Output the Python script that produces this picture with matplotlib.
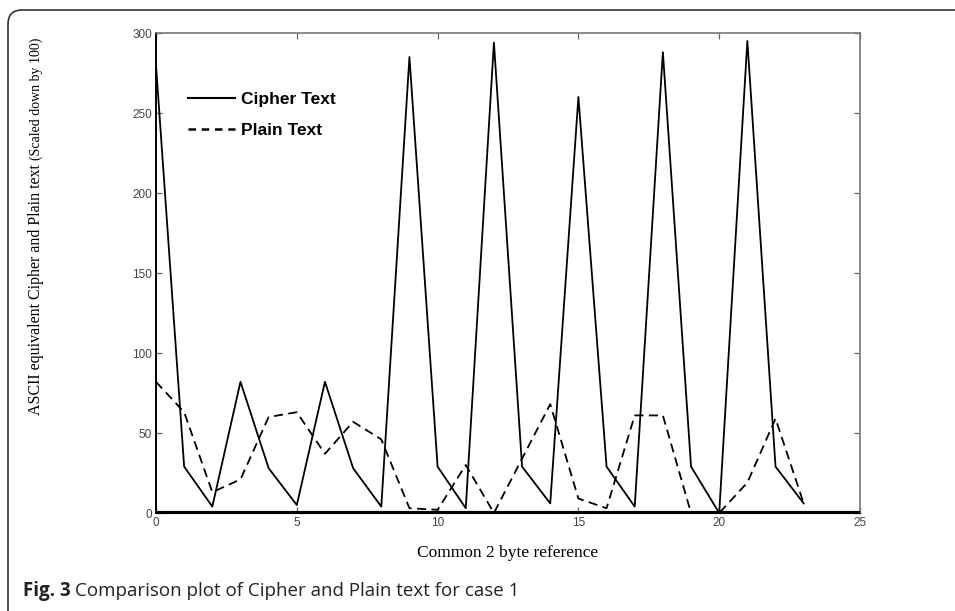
import matplotlib
matplotlib.use('Agg')
from matplotlib import pyplot as plt
from matplotlib.patches import FancyBboxPatch
from matplotlib.transforms import IdentityTransform
from matplotlib.lines import Line2D
import numpy as np

# values (byte index 0..23)
byte_ref = list(range(24))
cipher_text = [280, 29, 4, 82, 28, 5, 82, 28, 4, 285, 29, 3, 294, 29, 6, 260, 29, 4, 288, 29, 0, 295, 29, 6]
plain_text = [82, 63, 13, 21, 60, 63, 37, 57, 46, 3, 2, 30, 0, 34, 68, 9, 3, 61, 61, 0, 0, 19, 59, 6]
x_ticks = [0, 5, 10, 15, 20, 25]
y_ticks = [0, 50, 100, 150, 200, 250, 300]

W, H = 955, 611
fig = plt.figure(figsize=(W / 100, H / 100), dpi=100)

# card border (rounded, runs off the right and bottom edge)
card = FancyBboxPatch((8, -40), 1000, H - 10 + 40, boxstyle="round,pad=0,rounding_size=14",
                      transform=IdentityTransform(), facecolor='none', edgecolor='#333333', lw=1.2)
fig.add_artist(card)

ax = fig.add_axes([156 / W, (H - 513) / H, 704 / W, 480 / H])
ax.plot(byte_ref, cipher_text, color='black', lw=1.3, label='Cipher Text')
ax.plot(byte_ref, plain_text, color='black', lw=1.3, linestyle=(0, (5, 3)), label='Plain Text')
ax.axhline(0, color='black', lw=3, zorder=5)

ax.set_xlim(0, 25)
ax.set_ylim(0, 300)
ax.set_xticks(x_ticks)
ax.set_yticks(y_ticks)
tick_font = dict(family=['Liberation Sans Narrow', 'Liberation Sans'], size=8.5)
ax.set_xticklabels([str(t) for t in x_ticks], fontdict=tick_font, color='#444444')
ax.set_yticklabels([str(t) for t in y_ticks], fontdict=tick_font, color='#444444')
ax.tick_params(direction='in', length=4, width=0.9, color='#666666', top=True, right=True, pad=3)
for side in ['top', 'right']:
    ax.spines[side].set_color('#777777')
    ax.spines[side].set_linewidth(1.2)
ax.spines['left'].set_color('black')
ax.spines['left'].set_linewidth(1.4)
ax.spines['bottom'].set_color('black')

handles = [Line2D([], [], color='black', lw=1.5),
           Line2D([], [], color='black', lw=1.8, linestyle=(0, (3, 2.3)))]
ax.legend(handles, ['Cipher Text', 'Plain Text'], loc='upper left', bbox_to_anchor=(0.045, 0.877),
          frameon=False, handlelength=2.75, handletextpad=0.3, labelspacing=0.9,
          borderpad=0, borderaxespad=0,
          prop=dict(family='Liberation Sans', weight='bold', size=12.5))

fig.text(508 / W, 1 - 553 / H, 'Common 2 byte reference', ha='center', va='center',
         family='Liberation Serif', size=12.5)

# y label: main part plus smaller parenthetical
ylab = fig.text(36 / W, 1 - 415 / H, 'ASCII equivalent Cipher and Plain text ', rotation=90,
                ha='center', va='bottom', family='Liberation Serif', size=11.5)
fig.canvas.draw()
bb = ylab.get_window_extent()
fig.text(36 / W, bb.y1 / H, '(Scaled down by 100)', rotation=90, ha='center', va='bottom',
         family='Liberation Serif', size=10)

fig.text(23 / W, 1 - 591 / H, r'Fig. 3', ha='left', va='center', family='Open Sans',
         weight='bold', size=13.5, color='#222222')
fig.canvas.draw()
fb = fig.texts[-1].get_window_extent()
fig.text(fb.x1 / W + 4 / W, 1 - 591 / H, 'Comparison plot of Cipher and Plain text for case 1',
         ha='left', va='center', family='Open Sans', size=13.5, color='#222222')

fig.savefig('out.png', dpi=100)
